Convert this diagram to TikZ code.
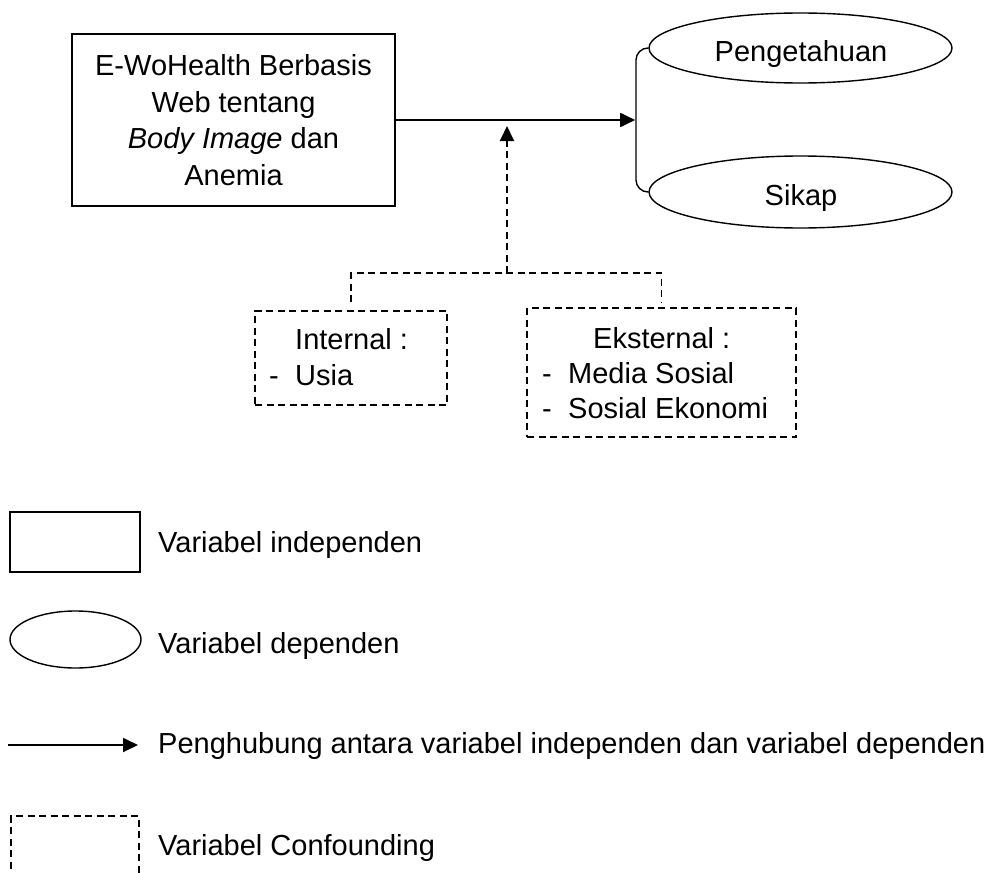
\documentclass[tikz,border=0pt]{standalone}
\usepackage{fontspec}
\setmainfont{Liberation Sans}
\usetikzlibrary{arrows.meta,shapes.geometric,calc}
\begin{document}
\begin{tikzpicture}[x=1pt,y=-1pt,
  every node/.style={font=\fontsize{29}{36.5}\selectfont, inner sep=0pt},
  indep/.style={draw, line width=1.7pt, rectangle},
  dep/.style={draw, line width=1.4pt, ellipse},
  conf/.style={draw, line width=1.6pt, dash pattern=on 7pt off 4.5pt},
  lbl/.style={anchor=base west},
  mid/.style={anchor=base},
  link/.style={line width=1.8pt, -{Triangle[length=15pt,width=14pt]}},
]
\useasboundingbox (0,0) rectangle (995,872);

% independent variable
\node[indep, minimum width=323pt, minimum height=172pt, align=center] (src) at (233.5,120)
  {E-WoHealth Berbasis\\Web tentang\\\textit{Body Image} dan\\Anemia};

% dependent variables
\node[dep, minimum width=303pt, minimum height=70pt] (pk) at (800.5,48) {};
\node[mid] (pkT) at (801,62) {Pengetahuan};
\node[dep, minimum width=303pt, minimum height=72pt] (sk) at (800.5,192) {};
\node[mid] (skT) at (801,205) {Sikap};
\coordinate (brk) at (636,120);
\draw[line width=1.4pt, rounded corners=12pt] (pk.west) -- (pk.west -| brk) -- (sk.west -| brk) -- (sk.west);

% main link
\draw[link] (src.east) -- ([xshift=-0.8pt]brk);

% confounding
\node[conf, minimum width=192pt, minimum height=94pt] (int) at (351,358) {};
\node[conf, minimum width=269pt, minimum height=129pt] (ext) at (661.5,372.5) {};
\coordinate (jm) at (507,273);
\coordinate (tp) at (507,126);
\coordinate (jl) at (351,302);
\coordinate (jr) at (661.5,302);
\draw[conf] (jl) |- (jm) -| (jr);
\draw[conf, line width=1.9pt, -{Triangle[length=15pt,width=14pt]}] (jm) -- (tp);

\node[lbl] (intT) at (295,349) {Internal :};
\node[lbl] (intD) at (269,385) {-};
\node[lbl] (intU) at (295,385) {Usia};
\node[lbl] (extT) at (593,348) {Eksternal :};
\node[lbl] (extD1) at (542,383) {-};
\node[lbl] (extM) at (568,383) {Media Sosial};
\node[lbl] (extD2) at (542,418) {-};
\node[lbl] (extS) at (568,418) {Sosial Ekonomi};

% legend
\node[indep, line width=1.5pt, minimum width=130pt, minimum height=60pt] (lgI) at (75,542) {};
\node[lbl] (lgIt) at (158,552) {Variabel independen};
\node[dep, minimum width=131pt, minimum height=57pt] (lgD) at (75.5,639.5) {};
\node[lbl] (lgDt) at (158,653) {Variabel dependen};
\coordinate (la0) at (8,745);
\coordinate (la1) at (138,745);
\draw[link] (la0) -- (la1);
\node[lbl] (lgAt) at (158,753) {Penghubung antara variabel independen dan variabel dependen};
\draw[conf] (11,880) -- (11,816) -- (139,816) -- (139,880);
\node[lbl] (lgCt) at (158,855) {Variabel Confounding};
\end{tikzpicture}
\end{document}
